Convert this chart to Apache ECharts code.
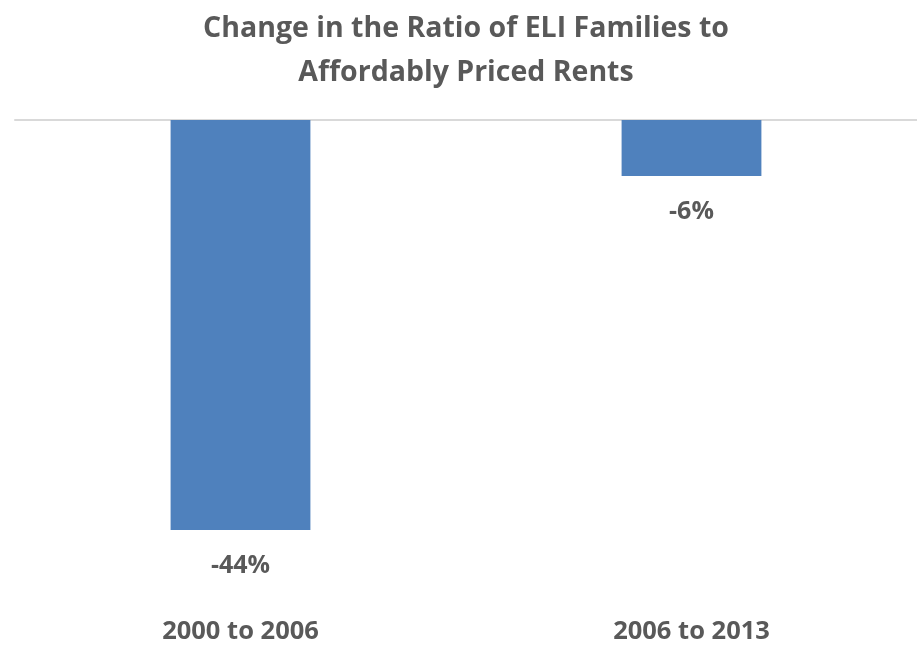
<!DOCTYPE html>
<html>
<head>
<meta charset="utf-8">
<script src="https://cdn.jsdelivr.net/npm/echarts@6/dist/echarts.min.js"></script>
<style>
  html, body { margin: 0; padding: 0; background: #ffffff; }
  #chart { width: 917px; height: 662px; }
</style>
</head>
<body>
<div id="chart"></div>
<script>
// Periods compared and the percentage change in the ratio for each
const periods = ['2000 to 2006', '2006 to 2013'];
const ratioChange = [-44, -6];
const seriesName = 'Change in ratio';
const titleLines = ['Change in the Ratio of ELI Families to', 'Affordably Priced Rents'];

const textColor = '#595959';
const fontFamily = '"Open Sans", "Noto Sans", sans-serif';

const titleStyle = {
  color: textColor,
  fontFamily: fontFamily,
  fontWeight: 'bold',
  fontSize: 28.5,
  lineHeight: 44
};

const chart = echarts.init(document.getElementById('chart'));
chart.setOption({
  backgroundColor: '#ffffff',
  animation: false,
  title: titleLines.map((line, i) => ({
    text: line,
    left: 466,
    textAlign: 'center',
    top: 2 + i * 44,
    padding: [5, 0, 5, 0],
    textStyle: titleStyle
  })),
  legend: {
    left: 169,
    top: 660,
    itemWidth: 10,
    itemHeight: 10,
    icon: 'rect',
    data: [seriesName],
    textStyle: { color: textColor, fontFamily: fontFamily, fontSize: 14 }
  },
  grid: { left: 15, right: 0, top: 120, bottom: 76 },
  xAxis: [
    {
      type: 'category',
      data: periods,
      position: 'bottom',
      axisLine: { show: false },
      axisTick: { show: false },
      axisLabel: {
        margin: 33,
        color: textColor,
        fontFamily: fontFamily,
        fontWeight: 'bold',
        fontSize: 25.5
      }
    },
    {
      type: 'category',
      data: periods,
      position: 'top',
      axisLine: { show: true, lineStyle: { color: '#d9d9d9', width: 2 } },
      axisTick: { show: false },
      axisLabel: { show: false }
    }
  ],
  yAxis: {
    type: 'value',
    min: -50,
    max: 0,
    show: false,
    splitLine: { show: false }
  },
  series: [
    {
      name: seriesName,
      type: 'bar',
      data: ratioChange,
      barWidth: '31%',
      itemStyle: { color: '#4f81bd' },
      label: {
        show: true,
        position: 'bottom',
        distance: 23,
        formatter: p => p.value + '%',
        color: textColor,
        fontFamily: fontFamily,
        fontWeight: 'bold',
        fontSize: 25
      }
    }
  ]
});
</script>
</body>
</html>
